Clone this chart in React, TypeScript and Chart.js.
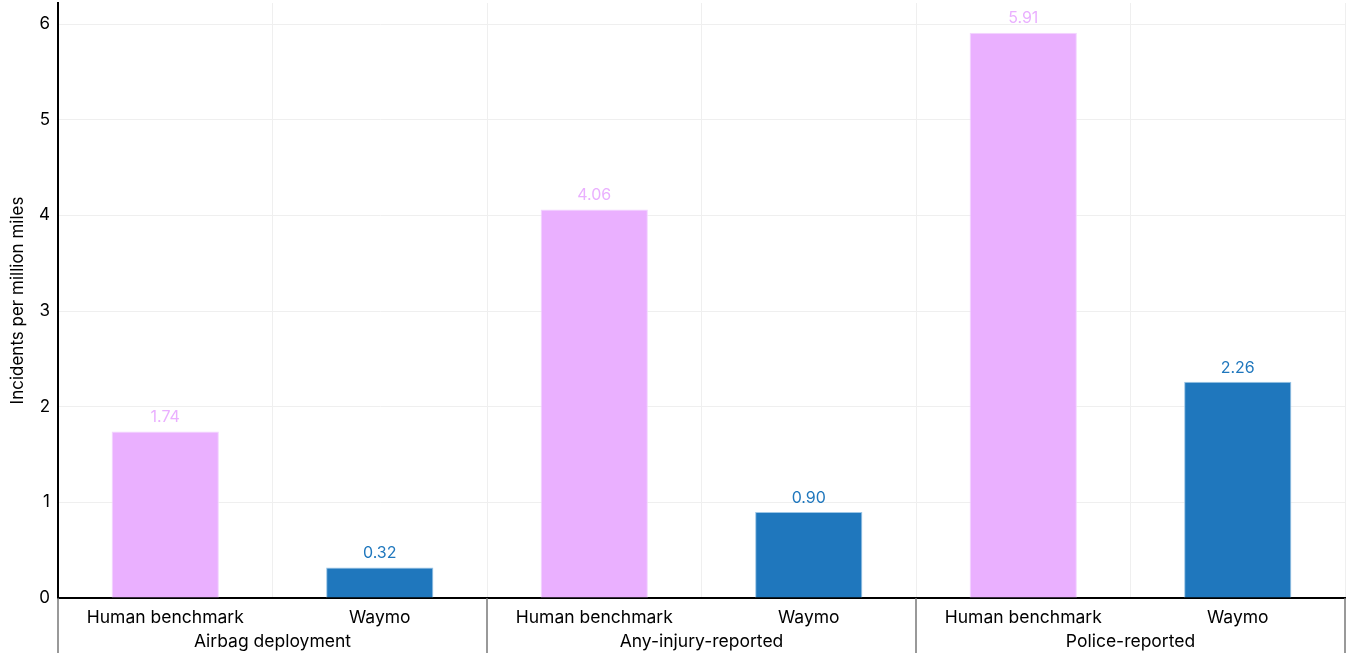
import React, { useEffect, useRef } from "react";
import { Chart, registerables } from "chart.js";

Chart.register(...registerables);

const groups = ["Airbag deployment", "Any-injury-reported", "Police-reported"];
const seriesNames = ["Human benchmark", "Waymo"];
const humanValues = [1.74, 4.06, 5.91];
const waymoValues = [0.32, 0.9, 2.26];
const yTicks = [0, 1, 2, 3, 4, 5, 6];
const yTitle = "Incidents per million miles";

const FONT = "Inter, 'Noto Sans', sans-serif";
const PINK = "#EAB0FF";
const PINK_BORDER = "#F3D6FF";
const BLUE = "#1F77BD";
const BLUE_BORDER = "#9CC6E6";

export default function App() {
  const ref = useRef<HTMLCanvasElement | null>(null);

  useEffect(() => {
    document.body.style.margin = "0";
    const canvas = ref.current;
    if (!canvas) return;

    const labels: string[] = [];
    const values: number[] = [];
    const bg: string[] = [];
    const border: string[] = [];
    groups.forEach((g, i) => {
      labels.push(seriesNames[0]);
      values.push(humanValues[i]);
      bg.push(PINK);
      border.push(PINK_BORDER);
      labels.push(seriesNames[1]);
      values.push(waymoValues[i]);
      bg.push(BLUE);
      border.push(BLUE_BORDER);
    });

    const groupPlugin = {
      id: "groupPlugin",
      afterDatasetsDraw(chart: any) {
        const ctx = chart.ctx;
        const meta = chart.getDatasetMeta(0);
        ctx.save();
        ctx.font = `16px ${FONT}`;
        ctx.textAlign = "center";
        ctx.textBaseline = "bottom";
        meta.data.forEach((bar: any, i: number) => {
          const v = values[i];
          ctx.fillStyle = bg[i];
          ctx.fillText(v.toFixed(2), bar.x, bar.y - 6);
        });
        ctx.restore();
      },
      afterDraw(chart: any) {
        const ctx = chart.ctx;
        const xs = chart.scales.x;
        const area = chart.chartArea;
        const n = labels.length;
        const step = (xs.right - xs.left) / n;
        ctx.save();
        ctx.strokeStyle = "#777777";
        ctx.lineWidth = 1.5;
        for (let g = 0; g <= groups.length; g++) {
          const x = Math.round(xs.left + g * 2 * step);
          ctx.beginPath();
          ctx.moveTo(x, area.bottom);
          ctx.lineTo(x, chart.height);
          ctx.stroke();
        }
        ctx.fillStyle = "#000";
        ctx.font = `17.5px ${FONT}`;
        ctx.textAlign = "center";
        ctx.textBaseline = "middle";
        groups.forEach((g, i) => {
          const cx = xs.left + (i * 2 + 1) * step;
          ctx.fillText(g, cx, area.bottom + 44);
        });
        ctx.restore();
      },
    };

    const chart = new Chart(canvas, {
      type: "bar",
      data: {
        labels,
        datasets: [
          {
            data: values,
            backgroundColor: bg,
            borderColor: border,
            borderWidth: 1,
            barPercentage: 0.5,
            categoryPercentage: 1.0,
          },
        ],
      },
      options: {
        animation: false,
        responsive: true,
        maintainAspectRatio: false,
        layout: { padding: { top: 3, right: 1, left: 0, bottom: 0 } },
        plugins: {
          legend: { display: false },
          tooltip: { enabled: false },
        },
        scales: {
          x: {
            grid: {
              color: "#EFEFEF",
              lineWidth: 1,
              drawTicks: false,
              offset: true,
            },
            border: { display: true, color: "#000", width: 2 },
            ticks: {
              color: "#000",
              font: { family: FONT, size: 17.5 },
              padding: 9,
              maxRotation: 0,
              autoSkip: false,
            },
            afterFit(scale: any) {
              scale.height = 55;
              scale.paddingLeft = 0;
              scale.paddingRight = 0;
            },
          },
          y: {
            min: 0,
            max: 6.22,
            afterBuildTicks(scale: any) {
              scale.ticks = yTicks.map((v) => ({ value: v }));
            },
            grid: { color: "#EFEFEF", lineWidth: 1, drawTicks: false },
            border: { display: true, color: "#000", width: 2 },
            ticks: {
              color: "#000",
              font: { family: FONT, size: 17 },
              padding: 8,
            },
            title: {
              display: true,
              text: yTitle,
              color: "#000",
              font: { family: FONT, size: 17 },
              padding: { top: 8, bottom: 0 },
            },
            afterFit(scale: any) {
              scale.width = 58;
              scale.paddingTop = 0;
              scale.paddingBottom = 0;
            },
          },
        },
      },
      plugins: [groupPlugin],
    });

    return () => chart.destroy();
  }, []);

  return (
    <div style={{ width: "1346px", height: "653px", position: "relative", overflow: "hidden" }}>
      <canvas ref={ref} />
    </div>
  );
}
